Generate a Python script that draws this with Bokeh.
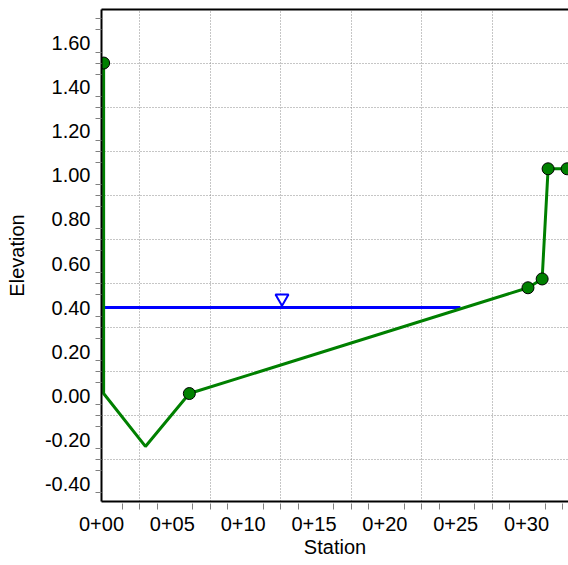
from bokeh.plotting import figure
from bokeh.models import Range1d, FixedTicker, LinearAxis, PrintfTickFormatter, CustomJSTickFormatter
from bokeh.embed import file_html
from bokeh.resources import INLINE

# ---- data ----
STATION = [0.15, 0.15, 3.10, 6.20, 30.10, 31.10, 31.52, 32.86]
ELEVATION = [1.51, 0.01, -0.23, 0.01, 0.49, 0.53, 1.03, 1.03]
HAS_MARKER = [True, False, False, True, True, True, True, True]

WS_STATION = [0.15, 25.33]
WS_ELEVATION = [0.40, 0.40]

X_LABEL_TICKS = [0, 5, 10, 15, 20, 25, 30]
Y_LABEL_TICKS = [-0.40, -0.20, 0.00, 0.20, 0.40, 0.60, 0.80, 1.00, 1.20, 1.40, 1.60]

# axis layout (grid / minor ticks are offset from labels, as in the source program)
X_GRID_START, X_GRID_STEP, X_GRID_COUNT = 2.70, 4.975, 6
Y_GRID_START, Y_GRID_STEP, Y_GRID_COUNT = -0.29, 0.20, 10
X_RANGE = (0.0, 32.96)
Y_RANGE = (-0.48, 1.753)

x_grid = [X_GRID_START + i * X_GRID_STEP for i in range(X_GRID_COUNT)]
y_grid = [Y_GRID_START + i * Y_GRID_STEP for i in range(Y_GRID_COUNT)]
x_minor = [X_GRID_START + k * X_GRID_STEP / 4 for k in range(-1, 25) if k % 4 != 2]
y_minor = [0.01 + 0.05 * k for k in range(-9, 35) if k % 4 != 0]

FONT = "Liberation Sans"
FS = "20px"

W, H = 568, 565
BORDER_L, BORDER_R, BORDER_T, BORDER_B = 101, 0, 9, 64

p = figure(width=W, height=H, output_backend="svg", toolbar_location=None,
           x_range=Range1d(*X_RANGE), y_range=Range1d(*Y_RANGE),
           min_border_left=BORDER_L, min_border_right=BORDER_R,
           min_border_top=BORDER_T, min_border_bottom=BORDER_B)
p.outline_line_color = None
p.background_fill_color = "white"
p.border_fill_color = "white"

# x axis
xa = p.xaxis[0]
xa.ticker = FixedTicker(ticks=X_LABEL_TICKS, minor_ticks=x_minor)
xa.formatter = CustomJSTickFormatter(code="""
const s = Math.round(tick);
return "0+" + (s < 10 ? "0" + s : "" + s);
""")
xa.major_tick_in = 0
xa.major_tick_out = 0
xa.minor_tick_in = -2
xa.minor_tick_out = 8
xa.minor_tick_line_color = "#808080"
xa.axis_line_width = 2
xa.axis_line_color = "black"
xa.major_label_text_font = FONT
xa.major_label_text_font_size = FS
xa.major_label_text_color = "black"
xa.major_label_standoff = 7
xa.axis_label = "Station"
xa.axis_label_text_font = FONT
xa.axis_label_text_font_size = FS
xa.axis_label_text_font_style = "normal"
xa.axis_label_text_color = "black"
xa.axis_label_standoff = 2

# y axis
ya = p.yaxis[0]
ya.ticker = FixedTicker(ticks=Y_LABEL_TICKS, minor_ticks=y_minor)
ya.formatter = PrintfTickFormatter(format="%.2f")
ya.major_tick_in = 0
ya.major_tick_out = 0
ya.minor_tick_in = 0
ya.minor_tick_out = 6
ya.minor_tick_line_color = "#808080"
ya.axis_line_width = 2
ya.axis_line_color = "black"
ya.major_label_text_font = FONT
ya.major_label_text_font_size = FS
ya.major_label_text_color = "black"
ya.major_label_standoff = 5
ya.axis_label = "Elevation"
ya.axis_label_text_font = FONT
ya.axis_label_text_font_size = FS
ya.axis_label_text_font_style = "normal"
ya.axis_label_text_color = "black"
ya.axis_label_standoff = 14

# top border line
top = LinearAxis(ticker=FixedTicker(ticks=[]), major_tick_in=0, major_tick_out=0,
                 minor_tick_in=0, minor_tick_out=0, major_label_standoff=0,
                 major_label_text_font_size="0px", axis_line_width=2, axis_line_color="black")
p.add_layout(top, "above")

# grids
p.xgrid.ticker = FixedTicker(ticks=x_grid)
p.ygrid.ticker = FixedTicker(ticks=y_grid)
for g in (p.xgrid[0], p.ygrid[0]):
    g.grid_line_color = "#8c8c8c"
    g.grid_line_dash = "1 2"
    g.grid_line_width = 1

# water surface
p.line(WS_STATION, WS_ELEVATION, line_color="#0000FF", line_width=3)
ws_mid = (WS_STATION[0] + WS_STATION[-1]) / 2
px_per_unit = (H - BORDER_T - BORDER_B) / (Y_RANGE[1] - Y_RANGE[0])
TRI_LIFT_PX = 9.3  # triangle symbol sits just above the water line
p.scatter([ws_mid], [WS_ELEVATION[0] + TRI_LIFT_PX / px_per_unit], marker="inverted_triangle",
          size=13, fill_color="white", line_color="#0000FF", line_width=2)

# ground
p.line(STATION, ELEVATION, line_color="#008000", line_width=3)
mx = [s for s, m in zip(STATION, HAS_MARKER) if m]
my = [e for e, m in zip(ELEVATION, HAS_MARKER) if m]
p.scatter(mx, my, size=12, fill_color="#008000", line_color="black", line_width=1)

open("out.html", "w").write(file_html(p, INLINE))
